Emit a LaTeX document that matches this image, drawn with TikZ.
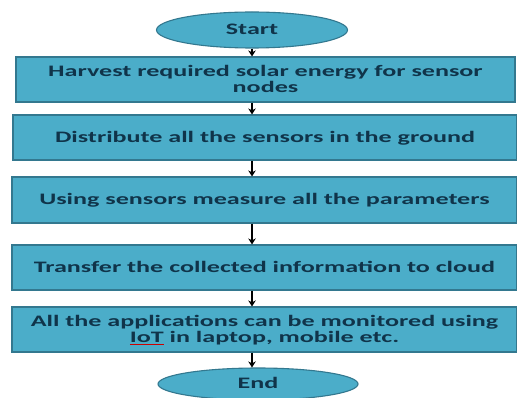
\documentclass[tikz,border=0pt]{standalone}
\usepackage{fontspec}
\usepackage{graphicx}
\setmainfont{Carlito}
\usetikzlibrary{arrows.meta,shapes.geometric}
\definecolor{boxfill}{HTML}{4BADC9}
\definecolor{boxedge}{HTML}{33788F}
\definecolor{txt}{HTML}{10344A}
\newcommand\spellul[1]{\setbox0\hbox{#1}\rlap{\color{red!80!black}\rule[-2.5pt]{\wd0}{0.6pt}}\box0\relax}
\newcommand\wide[1]{\smash{\raisebox{-6pt}{\scalebox{1.63}[1]{\begin{tabular}{@{}c@{}}#1\end{tabular}}}}}
\tikzset{
  stepbox/.style={draw=boxedge, line width=1.1pt, fill=boxfill, inner sep=0pt,
    text=txt, font=\bfseries\fontsize{16}{16}\selectfont},
  term/.style={ellipse, draw=boxedge, line width=1.1pt, fill=boxfill, inner sep=0pt,
    text=txt, font=\bfseries\fontsize{16}{16}\selectfont},
  flow/.style={-{Stealth[length=6pt,width=7.5pt]}, line width=1.5pt, black}
}
\begin{document}
\begin{tikzpicture}[x=1pt,y=-1pt]
\path[fill=white] (0,0) rectangle (517,398);
\useasboundingbox (0,0) rectangle (517,398);
\begin{scope}
\clip (0,0) rectangle (517,398);
\node[term, minimum width=191pt, minimum height=36pt] (start) at (252,30) {\wide{Start}};
\node[stepbox, minimum width=499pt, minimum height=45pt] (b1) at (265.5,79.5)
  {\wide{Harvest required solar energy for sensor\\nodes}};
\node[stepbox, minimum width=504pt, minimum height=45pt] (b2) at (265,137.5)
  {\wide{Distribute all the sensors in the ground}};
\node[stepbox, minimum width=505pt, minimum height=46pt] (b3) at (264.5,200)
  {\wide{Using sensors measure all the parameters}};
\node[stepbox, minimum width=505pt, minimum height=45pt] (b4) at (264.5,267.5)
  {\wide{Transfer the collected information to cloud}};
\node[stepbox, minimum width=505pt, minimum height=45pt] (b5) at (264.5,329.5)
  {\wide{All the applications can be monitored using\\\spellul{IoT} in laptop, mobile etc.}};
\node[term, minimum width=200pt, minimum height=32pt] (end) at (258,384) {\wide{End}};
\draw[flow] (start.south -| 252,0) -- (b1.north -| 252,0);
\draw[flow] (b1.south -| 252,0) -- (b2.north -| 252,0);
\draw[flow] (b2.south -| 252,0) -- (b3.north -| 252,0);
\draw[flow] (b3.south -| 252,0) -- (b4.north -| 252,0);
\draw[flow] (b4.south -| 252,0) -- (b5.north -| 252,0);
\draw[flow] (b5.south -| 252,0) -- (end.north -| 252,0);
\end{scope}
\end{tikzpicture}
\end{document}
